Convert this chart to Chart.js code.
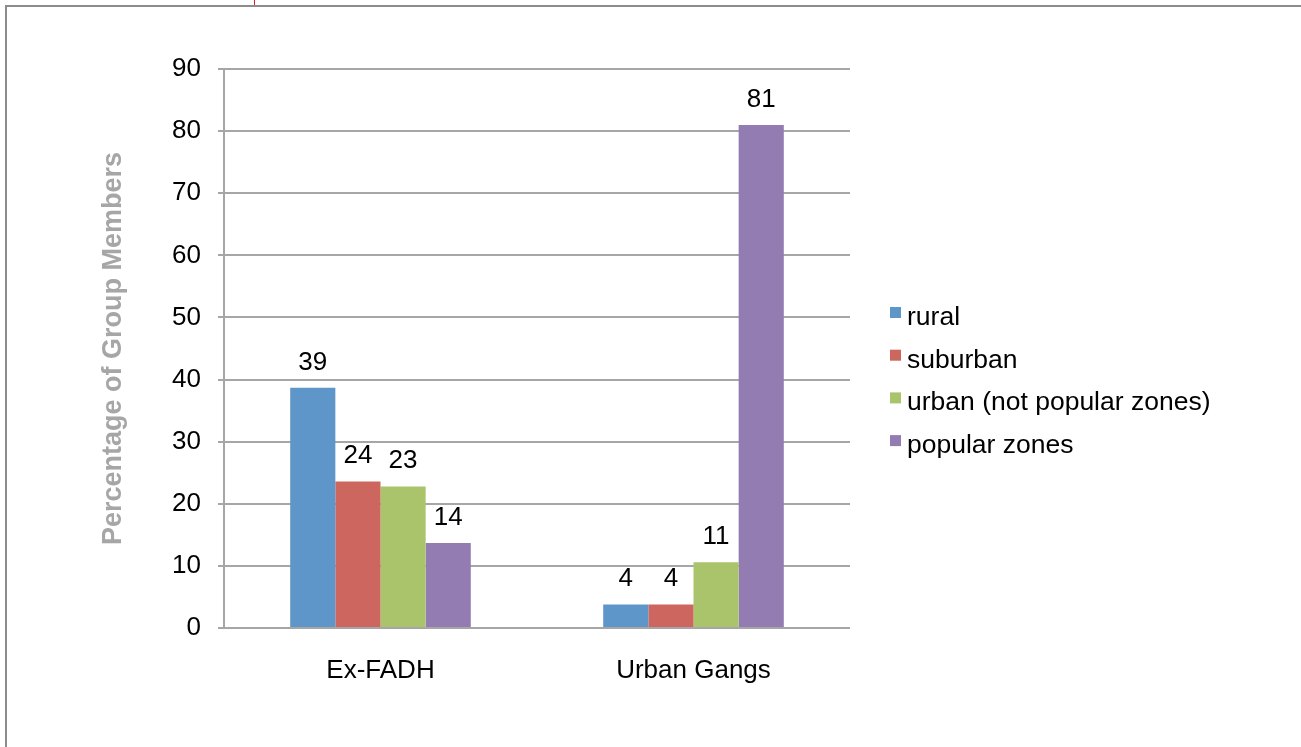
<!DOCTYPE html>
<html>
<head>
<meta charset="utf-8">
<script src="https://cdn.jsdelivr.net/npm/chart.js@4.4.0/dist/chart.umd.min.js"></script>
<style>
  html, body { margin: 0; padding: 0; background: #fff; }
  body { width: 1301px; height: 747px; position: relative; overflow: hidden; }
  #frame {
    position: absolute; left: 5px; top: 5px; width: 1400px; height: 800px;
    border-left: 2px solid #8c8c8c; border-top: 2px solid #8c8c8c;
  }
  #mark { position: absolute; left: 254px; top: 0; width: 1px; height: 5px; background: #e0202a; }
  #wrap { position: absolute; left: 0; top: 0; width: 1301px; height: 747px; }
</style>
</head>
<body>
<div id="frame"></div>
<div id="mark"></div>
<div id="wrap"><canvas id="groupChart"></canvas></div>
<script>
const categories = ['Ex-FADH', 'Urban Gangs'];
const seriesNames = ['rural', 'suburban', 'urban (not popular zones)', 'popular zones'];
const rural = [38.7, 3.8];
const suburban = [23.6, 3.8];
const urbanNotPopular = [22.8, 10.6];
const popularZones = [13.7, 81];
const yTicks = [0, 10, 20, 30, 40, 50, 60, 70, 80, 90];

const colors = ['#5F96C9', '#CD665F', '#AAC46C', '#937CB1'];
const gridColor = '#a6a6a6';
const fontFamily = '"Liberation Sans", Arial, Helvetica, sans-serif';

// value labels above each bar
const barLabels = {
  id: 'barLabels',
  afterDatasetsDraw(chart) {
    const ctx = chart.ctx;
    ctx.save();
    ctx.font = `26px ${fontFamily}`;
    ctx.fillStyle = '#000';
    ctx.textAlign = 'center';
    ctx.textBaseline = 'alphabetic';
    chart.data.datasets.forEach((ds, i) => {
      chart.getDatasetMeta(i).data.forEach((bar, j) => {
        ctx.fillText(Math.round(ds.data[j]), bar.x, bar.y - 18);
      });
    });
    ctx.restore();
  }
};

// legend on the right, drawn from the datasets
const sideLegend = {
  id: 'sideLegend',
  afterDraw(chart) {
    const ctx = chart.ctx;
    ctx.save();
    ctx.font = `26.5px ${fontFamily}`;
    ctx.textBaseline = 'alphabetic';
    ctx.textAlign = 'left';
    chart.data.datasets.forEach((ds, i) => {
      const base = 325 + i * 42.7;
      ctx.fillStyle = ds.backgroundColor;
      ctx.fillRect(890, base - 18, 11, 11);
      ctx.fillStyle = '#000';
      ctx.fillText(ds.label, 907, base);
    });
    ctx.restore();
  }
};

new Chart(document.getElementById('groupChart').getContext('2d'), {
  type: 'bar',
  data: {
    labels: categories,
    datasets: [rural, suburban, urbanNotPopular, popularZones].map((d, i) => ({
      label: seriesNames[i],
      data: d,
      backgroundColor: colors[i],
      borderWidth: 0,
      barPercentage: 1,
      categoryPercentage: 0.577
    }))
  },
  options: {
    responsive: true,
    maintainAspectRatio: false,
    animation: false,
    layout: { padding: { left: 93, top: 69, right: 451, bottom: 0 } },
    plugins: { legend: { display: false }, tooltip: { enabled: false } },
    scales: {
      x: {
        grid: { display: false },
        border: { display: false },
        ticks: { color: '#000', font: { family: fontFamily, size: 26 }, padding: 19 },
        afterFit: s => { s.height = 119; }
      },
      y: {
        min: 0,
        max: 90,
        afterBuildTicks: s => { s.ticks = yTicks.map(v => ({ value: v })); },
        grid: { color: gridColor, lineWidth: 2, tickLength: 6 },
        border: { display: true, color: gridColor, width: 2 },
        ticks: { color: '#000', font: { family: fontFamily, size: 26 }, padding: 17 },
        title: {
          display: true,
          text: 'Percentage of Group Members',
          color: '#a6a6a6',
          font: { family: fontFamily, size: 27, weight: 'bold' }
        },
        afterFit: s => { s.width = 131; }
      }
    }
  },
  plugins: [barLabels, sideLegend]
});
</script>
</body>
</html>
